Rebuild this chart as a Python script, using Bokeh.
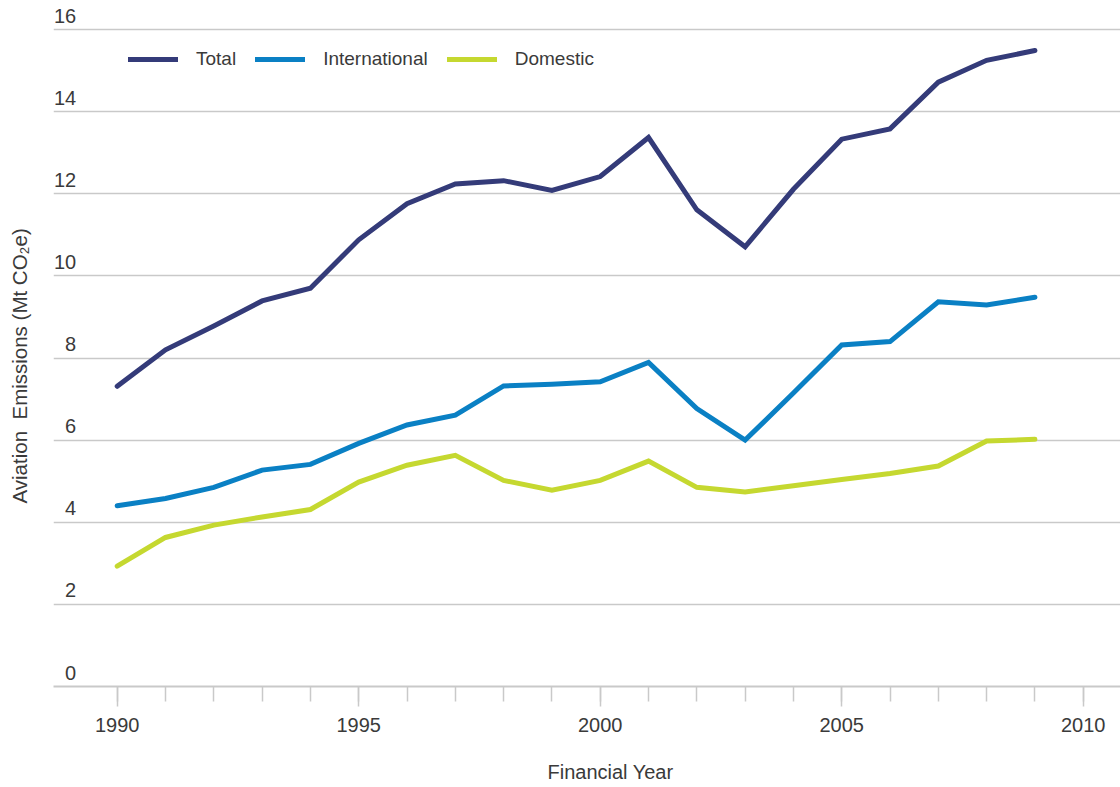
from bokeh.plotting import figure
from bokeh.models import Range1d, FixedTicker, Legend, LegendItem, Title, ColumnDataSource
from bokeh.core.properties import value
from bokeh.embed import file_html
from bokeh.resources import INLINE

years = [1990, 1991, 1992, 1993, 1994, 1995, 1996, 1997, 1998, 1999,
         2000, 2001, 2002, 2003, 2004, 2005, 2006, 2007, 2008, 2009]
total = [7.31, 8.20, 8.78, 9.39, 9.70, 10.88, 11.76, 12.24, 12.32, 12.08,
         12.42, 13.37, 11.61, 10.71, 12.11, 13.33, 13.58, 14.72, 15.25, 15.49]
international = [4.40, 4.58, 4.85, 5.27, 5.41, 5.92, 6.37, 6.61, 7.32, 7.36,
                  7.42, 7.89, 6.77, 6.00, 7.15, 8.32, 8.40, 9.37, 9.29, 9.48]
domestic = [2.93, 3.63, 3.93, 4.13, 4.31, 4.98, 5.39, 5.63, 5.02, 4.78,
            5.02, 5.49, 4.85, 4.74, 4.89, 5.04, 5.19, 5.37, 5.98, 6.02]

y_ticks = [0, 2, 4, 6, 8, 10, 12, 14, 16]
x_major = [1990, 1995, 2000, 2005, 2010]
x_minor = list(range(1990, 2011))

series_names = ["Total", "International", "Domestic"]
colors = ["#343b79", "#0a80c4", "#c5d830"]

FONT = "Liberation Sans"
TEXT = "#3a3a3a"
GRID = "#c9c9c9"

p = figure(width=1120, height=787, output_backend="svg", toolbar_location=None,
           x_range=Range1d(1988.681, 2010.772), y_range=Range1d(0, 16.61),
           min_border_left=53, min_border_right=0, min_border_top=4, min_border_bottom=101)
p.outline_line_color = None
p.background_fill_color = "white"
p.border_fill_color = "white"

# x axis
xa = p.xaxis[0]
xa.ticker = FixedTicker(ticks=x_major, minor_ticks=x_minor)
xa.axis_line_color = GRID
xa.axis_line_width = 2
xa.major_tick_line_color = GRID
xa.minor_tick_line_color = GRID
xa.major_tick_line_width = 1.5
xa.minor_tick_line_width = 1.5
xa.major_tick_in = 0
xa.major_tick_out = 20
xa.minor_tick_in = 0
xa.minor_tick_out = 15
xa.major_label_standoff = 11
xa.major_label_text_font = FONT
xa.major_label_text_font_size = "20px"
xa.major_label_text_color = TEXT
p.xgrid.visible = False

# y axis (hidden) with grid
ya = p.yaxis[0]
ya.ticker = FixedTicker(ticks=y_ticks)
ya.visible = False
p.ygrid.ticker = FixedTicker(ticks=y_ticks[1:])
p.ygrid.grid_line_color = GRID
p.ygrid.grid_line_width = 1.3

# y tick labels above grid lines
src_ticks = ColumnDataSource(dict(y=y_ticks, t=[str(v) for v in y_ticks], x=[years[0]] * len(y_ticks)))
p.text(x="x", y="y", text="t", source=src_ticks, x_offset=-41, y_offset=-14,
       text_align="right", text_baseline="alphabetic",
       text_font=value(FONT), text_font_size="20px", text_color=TEXT)

renderers = []
for name, data, c in zip(series_names, [total, international, domestic], colors):
    r = p.line(years, data, line_color=c, line_width=5, line_cap="round", line_join="miter")
    renderers.append((name, r))

legend = Legend(items=[LegendItem(label=n, renderers=[r]) for n, r in renderers],
                orientation="horizontal", location=(75, 616),
                glyph_width=50, glyph_height=20, label_height=20,
                label_standoff=18, spacing=19, padding=0, margin=0,
                border_line_color=None, background_fill_alpha=0,
                label_text_font=FONT, label_text_font_size="19px", label_text_color=TEXT)
p.add_layout(legend, "center")

# axis titles (spacer titles keep them at their place)
p.add_layout(Title(text="\u00a0", text_font_size="2px", standoff=18), "left")
p.add_layout(Title(text="Aviation\u00a0 Emissions (Mt CO\u2082e)", align="left", offset=183,
                   vertical_align="middle", standoff=0,
                   text_font=FONT, text_font_size="20.5px", text_font_style="normal",
                   text_color=TEXT), "left")
p.add_layout(Title(text="\u00a0", text_font_size="2px", standoff=20), "below")
p.add_layout(Title(text="Financial Year", align="left", offset=494,
                   vertical_align="bottom", standoff=0,
                   text_font=FONT, text_font_size="20px", text_font_style="normal",
                   text_color=TEXT), "below")

open("out.html", "w").write(file_html(p, INLINE))
